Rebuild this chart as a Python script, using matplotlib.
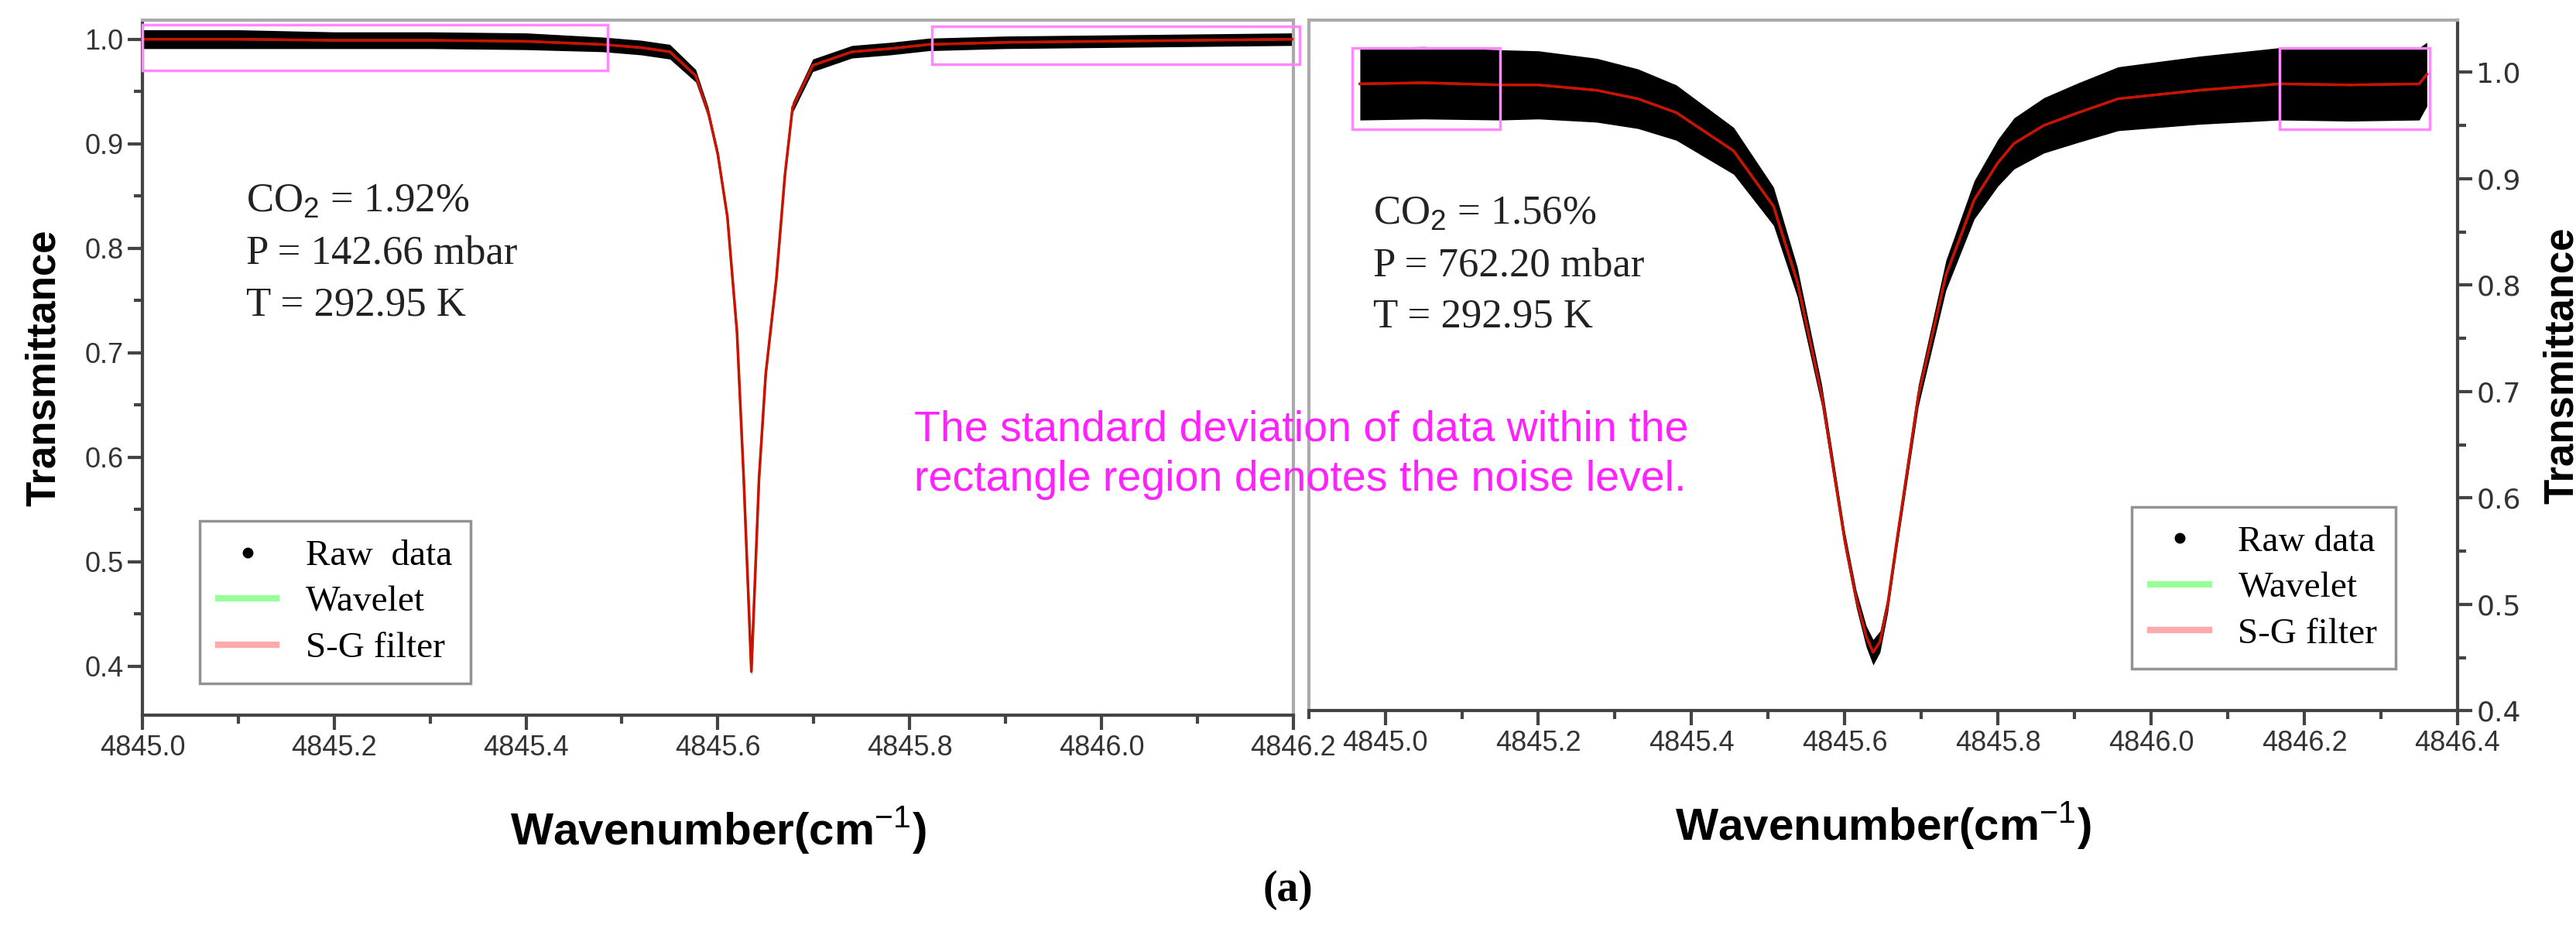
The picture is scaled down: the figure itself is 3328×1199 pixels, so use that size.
import matplotlib.pyplot as plt
from matplotlib.patches import Rectangle
from matplotlib.lines import Line2D
from matplotlib.ticker import MultipleLocator
import numpy as np

# left panel
leftX = [4845.0, 4845.1, 4845.2, 4845.3, 4845.4, 4845.48, 4845.52, 4845.55, 4845.577, 4845.59,
         4845.60, 4845.61, 4845.62, 4845.627, 4845.635, 4845.643, 4845.65, 4845.661, 4845.67,
         4845.678, 4845.699, 4845.74, 4845.78, 4845.82, 4845.9, 4846.0, 4846.1, 4846.2]
leftY = [1.0, 1.0, 0.999, 0.999, 0.998, 0.995, 0.992, 0.988, 0.965, 0.93,
         0.89, 0.83, 0.72, 0.58, 0.395, 0.58, 0.68, 0.77, 0.87,
         0.935, 0.975, 0.988, 0.991, 0.995, 0.997, 0.998, 0.999, 1.0]
leftNoise = [0.009, 0.009, 0.008, 0.008, 0.008, 0.007, 0.007, 0.007, 0.006, 0.005,
             0.004, 0.004, 0.004, 0.004, 0.004, 0.004, 0.004, 0.004, 0.004,
             0.005, 0.006, 0.006, 0.006, 0.006, 0.006, 0.006, 0.006, 0.006]

# right panel
rightX = [4844.967, 4845.05, 4845.15, 4845.2, 4845.276, 4845.33, 4845.38, 4845.455, 4845.507, 4845.538,
          4845.57, 4845.60, 4845.615, 4845.628, 4845.637, 4845.646, 4845.656, 4845.668, 4845.696,
          4845.732, 4845.769, 4845.80, 4845.821, 4845.86, 4845.905, 4845.957, 4846.063, 4846.168,
          4846.26, 4846.35, 4846.36]
rightY = [0.989, 0.99, 0.988, 0.988, 0.983, 0.975, 0.962, 0.926, 0.874, 0.803,
          0.696, 0.56, 0.505, 0.47, 0.455, 0.465, 0.50, 0.56, 0.696,
          0.809, 0.88, 0.915, 0.933, 0.95, 0.962, 0.975, 0.983, 0.989,
          0.988, 0.989, 0.998]
rightNoise = [0.034, 0.034, 0.033, 0.032, 0.03, 0.028, 0.026, 0.022, 0.018, 0.014,
              0.01, 0.008, 0.008, 0.01, 0.012, 0.01, 0.008, 0.008, 0.01,
              0.014, 0.018, 0.022, 0.024, 0.026, 0.028, 0.03, 0.032, 0.034,
              0.034, 0.034, 0.03]

leftBoxes = [(4845.0, 0.9705, 4845.485, 1.014), (4845.823, 0.976, 4846.207, 1.012)]
rightBoxes = [(4844.957, 0.946, 4845.15, 1.023), (4846.168, 0.946, 4846.364, 1.023)]

leftInfo = ["CO$_2$ = 1.92%", "P = 142.66 mbar", "T = 292.95 K"]
rightInfo = ["CO$_2$ = 1.56%", "P = 762.20 mbar", "T = 292.95 K"]

magenta = '#ff22ff'
dark = '#444444'
light = '#aaaaaa'


def drawPanel(ax, x, y, noise, boxes, info, infoPos):
    x = np.array(x)
    y = np.array(y)
    n = np.array(noise)
    ax.fill_between(x, y - n, y + n, color='black', lw=0, zorder=2)
    ax.plot(x, y, color='#33cc33', lw=2, zorder=3)
    ax.plot(x, y, color='#cc1100', lw=2.5, zorder=4)
    for x0, y0, x1, y1 in boxes:
        ax.add_patch(Rectangle((x0, y0), x1 - x0, y1 - y0, fill=False, ec='#ff88ff', lw=2.5,
                               clip_on=False, zorder=5))
    for i, t in enumerate(info):
        ax.text(infoPos[0], infoPos[1] - i * 0.075, t, transform=ax.transAxes,
                family='Liberation Serif', fontsize=38, color='#222222', va='center')
    ax.tick_params(axis='both', which='major', direction='out', length=14, width=3, labelsize=26,
                   color=dark, labelcolor='#333333')
    ax.tick_params(axis='both', which='minor', direction='out', length=8, width=3, color=dark)
    for lab in ax.get_xticklabels() + ax.get_yticklabels():
        lab.set_family('Liberation Sans')
    ax.xaxis.set_major_locator(MultipleLocator(0.2))
    ax.xaxis.set_minor_locator(MultipleLocator(0.1))
    ax.yaxis.set_major_locator(MultipleLocator(0.1))
    ax.yaxis.set_minor_locator(MultipleLocator(0.05))
    ax.xaxis.set_major_formatter(lambda v, p: '%.1f' % v)
    ax.set_xlabel('Wavenumber(cm$^{-1}$)', fontsize=42, fontweight='bold', family='Liberation Sans',
                  labelpad=40)
    handles = [Line2D([], [], ls='none', marker='o', color='black', ms=9),
               Line2D([], [], color='#99ff99', lw=6),
               Line2D([], [], color='#ffaaaa', lw=6)]
    return handles


plt.rcParams['mathtext.fontset'] = 'custom'
plt.rcParams['mathtext.rm'] = 'Liberation Sans'
plt.rcParams['mathtext.bf'] = 'Liberation Sans:bold'

fig = plt.figure(figsize=(33.28, 11.99), dpi=100)
axL = fig.add_axes([0.0553, 0.229, 0.4467, 0.749])
axR = fig.add_axes([0.508, 0.234, 0.446, 0.744])

h = drawPanel(axL, leftX, leftY, leftNoise, leftBoxes, leftInfo, (0.09, 0.74))
axL.set_xlim(4845.0, 4846.2)
axL.set_ylim(0.353, 1.018)
axL.set_ylabel('Transmittance', fontsize=38, fontweight='bold', family='Liberation Sans', labelpad=20)
axL.spines['left'].set_color(dark)
axL.spines['bottom'].set_color(dark)
axL.spines['top'].set_color(light)
axL.spines['right'].set_color(light)
for s in axL.spines.values():
    s.set_linewidth(3)
legL = axL.legend(h, ['Raw  data', 'Wavelet', 'S-G filter'], loc='lower left', bbox_to_anchor=(0.034, 0.02),
                  prop={'family': 'Liberation Serif', 'size': 34}, frameon=True, fancybox=False,
                  edgecolor='#777777', handlelength=1.6, labelspacing=0.35, borderpad=0.5)
legL.get_frame().set_linewidth(2.5)

h = drawPanel(axR, rightX, rightY, rightNoise, rightBoxes, rightInfo, (0.056, 0.72))
axR.set_xlim(4844.9, 4846.4)
axR.set_ylim(0.4, 1.0486)
axR.yaxis.tick_right()
axR.yaxis.set_label_position('right')
axR.set_ylabel('Transmittance', fontsize=38, fontweight='bold', family='Liberation Sans', labelpad=20)
axR.spines['right'].set_color(dark)
axR.spines['bottom'].set_color(dark)
axR.spines['top'].set_color(light)
axR.spines['left'].set_color(light)
for s in axR.spines.values():
    s.set_linewidth(3)
legR = axR.legend(h, ['Raw data', 'Wavelet', 'S-G filter'], loc='lower right', bbox_to_anchor=(0.962, 0.034),
                  prop={'family': 'Liberation Serif', 'size': 34}, frameon=True, fancybox=False,
                  edgecolor='#777777', handlelength=1.6, labelspacing=0.35, borderpad=0.5)
legR.get_frame().set_linewidth(2.5)

fig.text(1181 / 3328, 1 - 530 / 1199, 'The standard deviation of data within the\nrectangle region denotes the noise level.',
         color=magenta, fontsize=40, family='Liberation Sans', va='top', linespacing=1.3)
fig.text(0.5, 1 - 1150 / 1199, '(a)', fontsize=40, family='Liberation Serif', fontweight='bold',
         ha='center', va='center')

fig.savefig('out.png', dpi=100)
